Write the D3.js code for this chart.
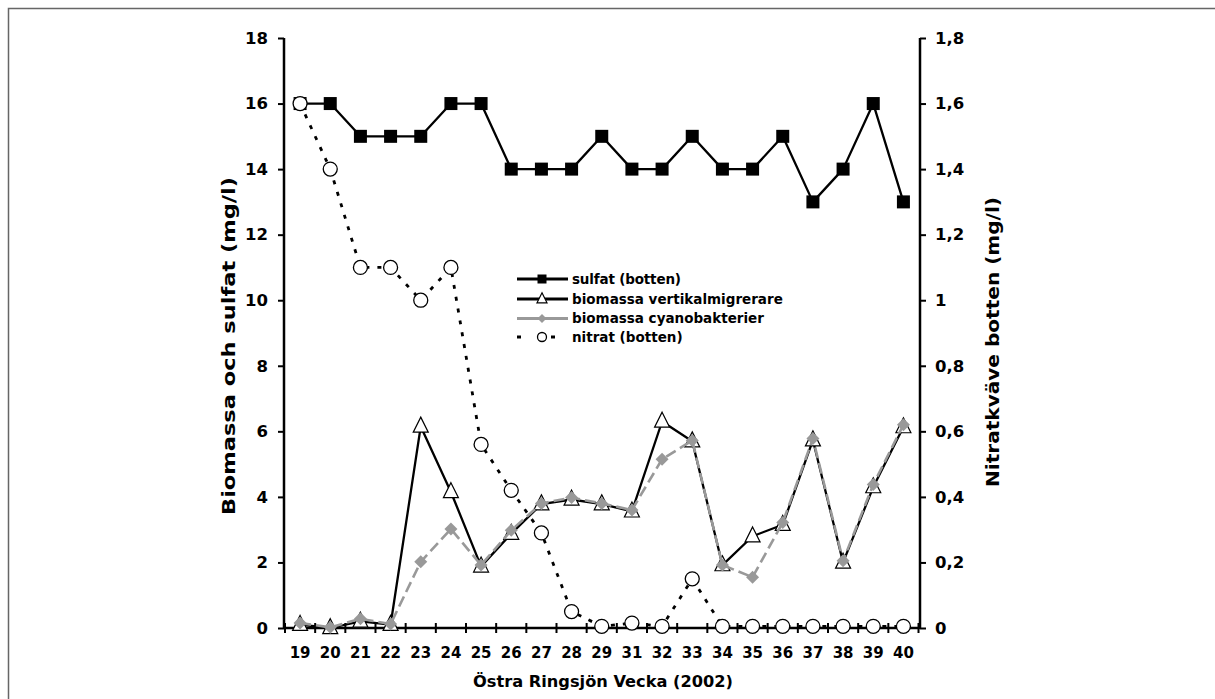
<!DOCTYPE html>
<html>
<head>
<meta charset="utf-8">
<script src="https://cdn.jsdelivr.net/npm/d3@7"></script>
<style>
  html, body { margin: 0; padding: 0; background: #fff; }
  svg { display: block; }
  text { font-family: "DejaVu Sans", Verdana, sans-serif; font-weight: bold; fill: #000; }
</style>
</head>
<body>
<svg id="chart" width="1215" height="699"></svg>
<script>
// Weeks sampled in 2002 (week 30 missing)
const weeks = ["19","20","21","22","23","24","25","26","27","28","29","31","32","33","34","35","36","37","38","39","40"];

// Left axis series (mg/l)
const sulfat = [16,16,15,15,15,16,16,14,14,14,15,14,14,15,14,14,15,13,14,16,13];
const vertikal = [0.1,0.0,0.2,0.1,6.15,4.15,1.88,2.88,3.78,3.92,3.78,3.56,6.3,5.7,1.92,2.8,3.15,5.73,2.0,4.3,6.13];
const cyano = [0.15,0.02,0.28,0.12,2.02,3.02,1.92,2.98,3.8,3.98,3.8,3.6,5.15,5.72,1.92,1.55,3.22,5.78,2.05,4.38,6.2];

// Right axis series (mg/l)
const nitrat = [1.6,1.4,1.1,1.1,1.0,1.1,0.56,0.42,0.29,0.05,0.005,0.015,0.005,0.15,0.005,0.005,0.005,0.005,0.005,0.005,0.005];

// Tick values and labels
const leftTicks = [0,2,4,6,8,10,12,14,16,18];
const rightTicks = [0,0.2,0.4,0.6,0.8,1,1.2,1.4,1.6,1.8];
const rightTickLabels = ["0","0,2","0,4","0,6","0,8","1","1,2","1,4","1,6","1,8"];

const seriesNames = ["sulfat (botten)","biomassa vertikalmigrerare","biomassa cyanobakterier","nitrat (botten)"];

const svg = d3.select("#chart");

// Outer frame
svg.append("rect")
  .attr("x", 8.5).attr("y", 8.5)
  .attr("width", 1215).attr("height", 700)
  .attr("fill", "none").attr("stroke", "#666").attr("stroke-width", 1.5);

const plotLeft = 284, plotRight = 920, plotTop = 38, plotBottom = 628;

const x = d3.scaleBand().domain(weeks).range([285, 918.5]).padding(0);
const yL = d3.scaleLinear().domain([0, 18]).range([plotBottom, plotTop]);
const yR = d3.scaleLinear().domain([0, 1.8]).range([plotBottom, plotTop]);
const cx = d => x(d) + x.bandwidth() / 2;

// Left axis
const axL = d3.axisLeft(yL).tickValues(leftTicks).tickSize(6).tickPadding(10).tickFormat(d3.format("d"));
const gL = svg.append("g").attr("transform", `translate(${plotLeft},0)`).call(axL);
// Right axis
const axR = d3.axisRight(yR).tickValues(rightTicks).tickSize(6).tickPadding(9)
  .tickFormat((d, i) => rightTickLabels[i]);
const gR = svg.append("g").attr("transform", `translate(${plotRight},0)`).call(axR);

[gL, gR].forEach(g => {
  g.select(".domain").attr("stroke", "#000").attr("stroke-width", 2.5)
    .attr("d", `M0,${plotTop}V${plotBottom}`);
  g.selectAll(".tick line").attr("stroke", "#000").attr("stroke-width", 2);
  g.selectAll(".tick text").attr("font-size", 16.5).attr("font-family", "DejaVu Sans").attr("font-weight", "bold");
});

// Category axis with crossing tick marks at band boundaries
const gX = svg.append("g").attr("transform", `translate(0,${plotBottom})`);
gX.append("line").attr("x1", plotLeft).attr("x2", plotRight).attr("y1", 0).attr("y2", 0)
  .attr("stroke", "#000").attr("stroke-width", 2.5);
const bounds = weeks.map(w => x(w)).concat([x(weeks[weeks.length - 1]) + x.bandwidth()]);
gX.selectAll("line.tk").data(bounds).enter().append("line").attr("class", "tk")
  .attr("x1", d => d).attr("x2", d => d).attr("y1", -5).attr("y2", 5)
  .attr("stroke", "#000").attr("stroke-width", 2);
gX.selectAll("text.lbl").data(weeks).enter().append("text").attr("class", "lbl")
  .attr("x", d => cx(d)).attr("y", 30)
  .attr("text-anchor", "middle").attr("font-size", 15).text(d => d);

// Axis titles
svg.append("text").attr("transform", "translate(235,346) rotate(-90)")
  .attr("text-anchor", "middle").attr("font-size", 18)
  .attr("textLength", 338).attr("lengthAdjust", "spacingAndGlyphs")
  .text("Biomassa och sulfat (mg/l)");
svg.append("text").attr("transform", "translate(999,342) rotate(-90)")
  .attr("text-anchor", "middle").attr("font-size", 18)
  .attr("textLength", 290).attr("lengthAdjust", "spacingAndGlyphs")
  .text("Nitratkväve botten (mg/l)");
svg.append("text").attr("x", 603).attr("y", 687)
  .attr("text-anchor", "middle").attr("font-size", 16.5)
  .attr("textLength", 260).attr("lengthAdjust", "spacingAndGlyphs")
  .text("Östra Ringsjön Vecka (2002)");

// Marker painters
const sqr = (g, s) => g.append("rect").attr("x", -s / 2).attr("y", -s / 2).attr("width", s).attr("height", s).attr("fill", "#000");
const tri = (g, s) => g.append("path")
  .attr("d", `M0,${-s * 0.62}L${s / 2},${s * 0.38}L${-s / 2},${s * 0.38}Z`)
  .attr("fill", "#fff").attr("stroke", "#000").attr("stroke-width", 1.2);
const dia = (g, s) => g.append("path")
  .attr("d", `M0,${-s / 2}L${s / 2},0L0,${s / 2}L${-s / 2},0Z`).attr("fill", "#999");
const circ = (g, s) => g.append("circle").attr("r", s / 2).attr("fill", "#fff").attr("stroke", "#000").attr("stroke-width", 1.3);

const series = [
  { name: seriesNames[0], values: sulfat, y: yL, color: "#000", width: 2.3, dash: null, marker: sqr, size: 13 },
  { name: seriesNames[1], values: vertikal, y: yL, color: "#000", width: 2.3, dash: null, marker: tri, size: 15 },
  { name: seriesNames[2], values: cyano, y: yL, color: "#999", width: 2.6, dash: "11,5", marker: dia, size: 13 },
  { name: seriesNames[3], values: nitrat, y: yR, color: "#000", width: 2.8, dash: "4,8", marker: circ, size: 14 }
];

const plot = svg.append("g");
series.forEach(s => {
  const line = d3.line().x((d, i) => cx(weeks[i])).y(d => s.y(d));
  plot.append("path").datum(s.values).attr("d", line)
    .attr("fill", "none").attr("stroke", s.color).attr("stroke-width", s.width)
    .attr("stroke-dasharray", s.dash).attr("stroke-linejoin", "round");
  s.values.forEach((v, i) => {
    const g = plot.append("g").attr("transform", `translate(${cx(weeks[i])},${s.y(v)})`);
    s.marker(g, s.size);
  });
});

// Legend
const legend = svg.append("g");
const legendRows = [279, 299, 318.5, 337];
series.forEach((s, i) => {
  const yy = legendRows[i];
  const g = legend.append("g").attr("transform", `translate(0,${yy})`);
  if (i === 3) {
    g.append("line").attr("x1", 517).attr("x2", 521).attr("y1", 0).attr("y2", 0).attr("stroke", "#000").attr("stroke-width", 3);
    g.append("line").attr("x1", 551).attr("x2", 555).attr("y1", 0).attr("y2", 0).attr("stroke", "#000").attr("stroke-width", 3);
  } else {
    g.append("line").attr("x1", 517).attr("x2", 568).attr("y1", 0).attr("y2", 0)
      .attr("stroke", s.color).attr("stroke-width", 3);
  }
  const m = g.append("g").attr("transform", "translate(542,0)");
  s.marker(m, i === 1 ? 10 : 9);
  g.append("text").attr("x", 572).attr("y", 0).attr("dy", "0.36em")
    .attr("font-size", 13.5).attr("textLength", i === 0 ? 109 : null)
    .text(s.name);
});
</script>
</body>
</html>
